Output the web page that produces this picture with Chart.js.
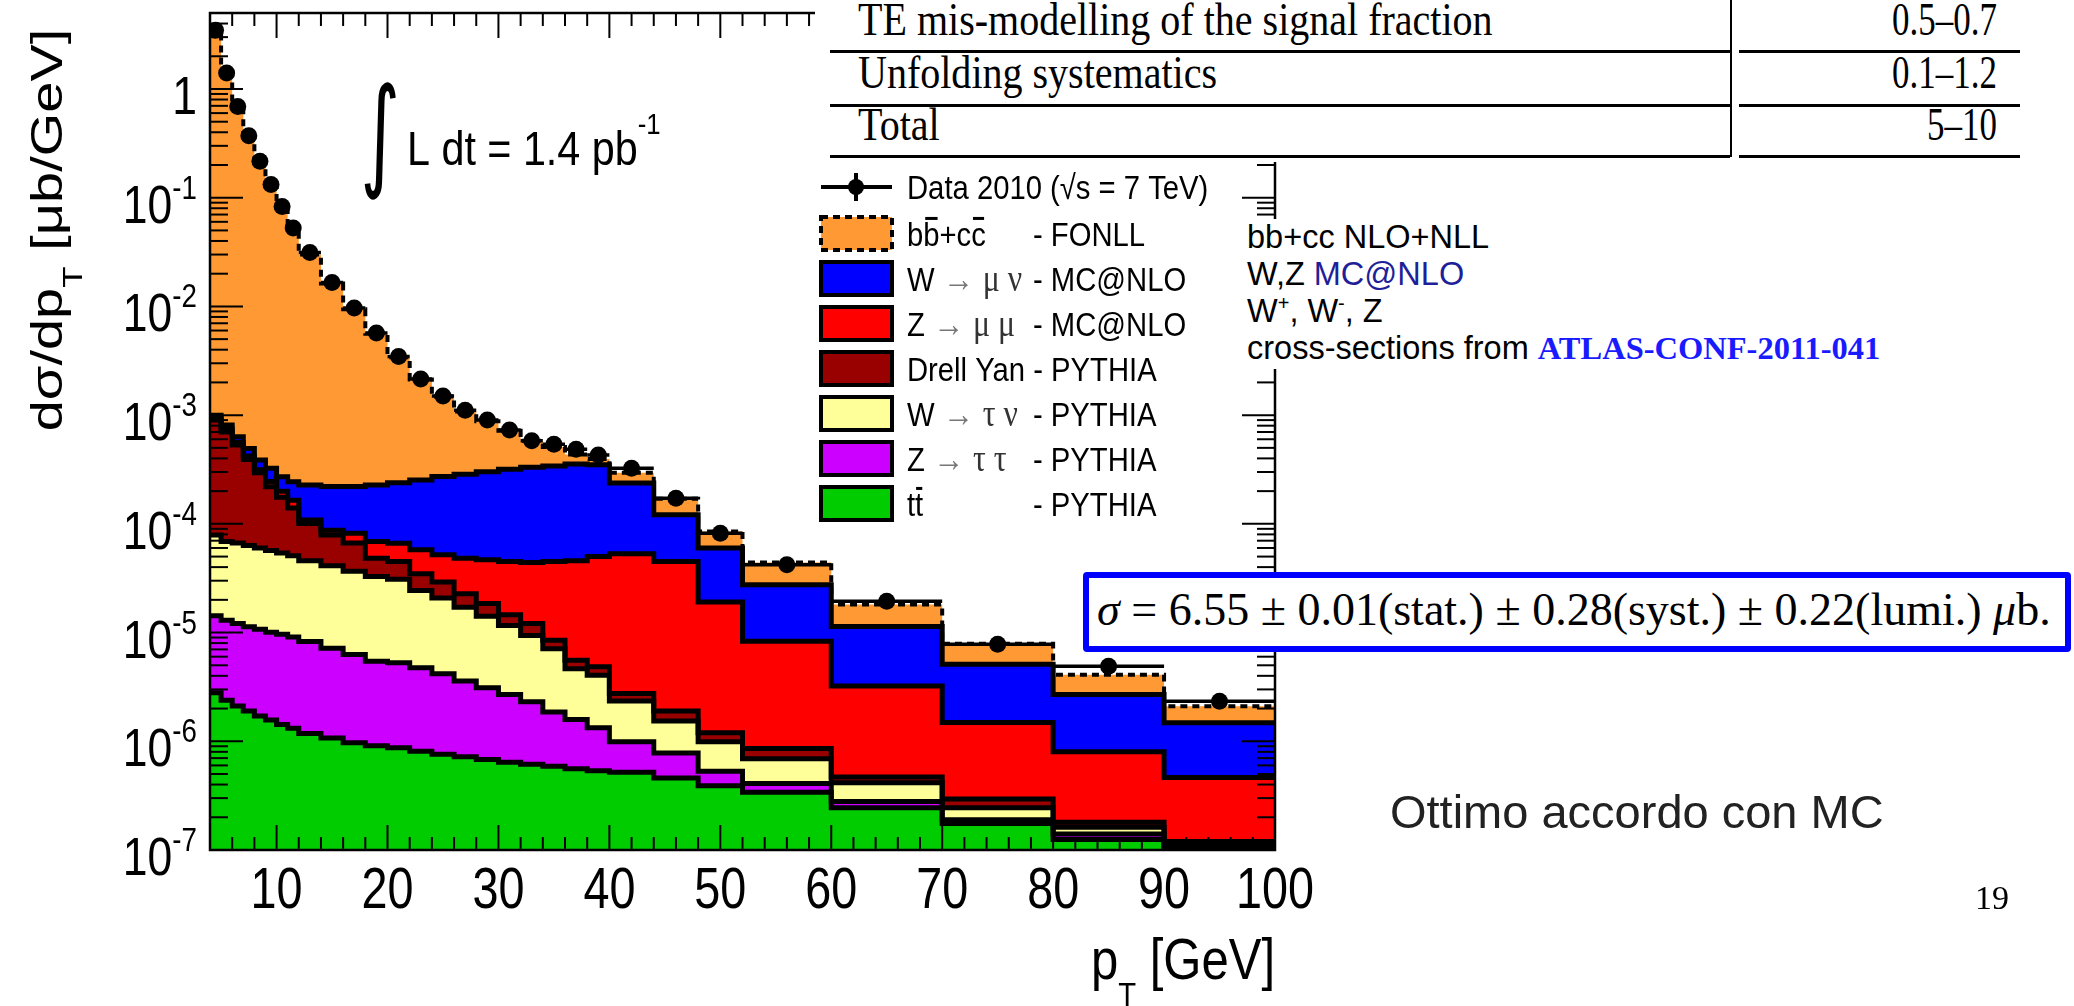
<!DOCTYPE html>
<html>
<head>
<meta charset="utf-8">
<title>Inclusive muon cross-section vs pT</title>
<script src="https://cdn.jsdelivr.net/npm/chart.js@4.4.1/dist/chart.umd.min.js"></script>
<style>
  html, body { margin: 0; padding: 0; background: #fff; }
  body { width: 2074px; height: 1006px; position: relative; overflow: hidden;
         font-family: "Liberation Sans", Arial, sans-serif; }
  #plot { position: absolute; left: 0; top: 0; }
  .sheet { position: absolute; background: #fff; }
  .rule { position: absolute; background: #000; }
  #systTable { left: 815px; top: 0; width: 1259px; height: 162px;
               font-family: "Liberation Serif", "Times New Roman", serif; font-size: 46px; line-height: 46px; }
  #systTable .lbl { position: absolute; left: 43px; white-space: nowrap; transform: scaleX(0.87); transform-origin: left center; }
  #systTable .val { position: absolute; right: 77px; white-space: nowrap; transform: scaleX(0.76); transform-origin: right center; }
  #refs { left: 1240px; top: 219px; width: 660px; height: 150px; font-size: 32.5px; line-height: 37px;
          padding-left: 7px; box-sizing: border-box; white-space: nowrap; }
  #refs sup { font-size: 20px; line-height: 0; }
  #refs .nlo { color: #1f1f99; }
  #refs .conf { color: #1a1aff; font-family: "Liberation Serif", serif; font-weight: bold; }
  #sigma { left: 1083px; top: 572px; width: 988px; height: 80px; box-sizing: border-box;
           border: 6px solid #0000ff; border-radius: 4px; padding: 0 0 0 8px;
           font-family: "Liberation Serif", "Times New Roman", serif; font-size: 46px; line-height: 64px;
           white-space: nowrap; }
  #verdict { position: absolute; left: 1390px; top: 788px; font-size: 47px; line-height: 47px; color: #222; white-space: nowrap; }
  #page { position: absolute; left: 1975px; top: 881px; font-family: "Liberation Serif", serif;
          font-size: 34px; line-height: 34px; }
</style>
</head>
<body>
<canvas id="plot" width="2074" height="1006"></canvas>

<div class="sheet" id="systTable">
  <div class="lbl" style="top:-3px">TE mis-modelling of the signal fraction</div>
  <div class="val" style="top:-3px">0.5–0.7</div>
  <div class="rule" style="left:15px; top:50px; width:900px; height:3px"></div>
  <div class="rule" style="left:924px; top:50px; width:281px; height:3px"></div>
  <div class="lbl" style="top:50px">Unfolding systematics</div>
  <div class="val" style="top:50px">0.1–1.2</div>
  <div class="rule" style="left:15px; top:104px; width:900px; height:3px"></div>
  <div class="rule" style="left:924px; top:104px; width:281px; height:3px"></div>
  <div class="lbl" style="top:102px">Total</div>
  <div class="val" style="top:102px">5–10</div>
  <div class="rule" style="left:15px; top:155px; width:900px; height:3px"></div>
  <div class="rule" style="left:924px; top:155px; width:281px; height:3px"></div>
  <div class="rule" style="left:915px; top:0; width:2px; height:157px"></div>
</div>

<div class="sheet" id="refs">
  <div>bb+cc NLO+NLL</div>
  <div>W,Z <span class="nlo">MC@NLO</span></div>
  <div>W<sup>+</sup>, W<sup>-</sup>, Z</div>
  <div>cross-sections from <span class="conf">ATLAS-CONF-2011-041</span></div>
</div>

<div class="sheet" id="sigma"><i>σ</i> = 6.55 ± 0.01(stat.) ± 0.28(syst.) ± 0.22(lumi.) <i>μ</i>b.</div>

<div id="verdict">Ottimo accordo con MC</div>
<div id="page">19</div>

<script>
// pT binning in GeV
const binEdges = [4, 5, 6, 7, 8, 9, 10, 11, 12, 14, 16, 18, 20, 22, 24, 26, 28, 30, 32, 34, 36, 38, 40,
                  44, 48, 52, 60, 70, 80, 90, 100];

// measured dsigma/dpT, mub/GeV
const dataValues = [3.47, 1.40, 0.69, 0.372, 0.216, 0.132, 0.083, 0.0526, 0.0314, 0.0166, 0.00966, 0.00569,
                    0.00347, 0.00215, 0.0015, 0.00111, 9.0e-4, 7.3e-4, 5.8e-4, 5.4e-4, 4.85e-4, 4.3e-4,
                    3.24e-4, 1.72e-4, 8.2e-5, 4.2e-5, 1.94e-5, 7.8e-6, 4.9e-6, 2.34e-6];

// MC predictions per process, mub/GeV
const ttbar = [2.8e-6, 2.39e-6, 2.11e-6, 1.9e-6, 1.71e-6, 1.57e-6, 1.43e-6, 1.32e-6, 1.18e-6, 1.07e-6, 9.7e-7,
               9.1e-7, 8.7e-7, 8.1e-7, 7.6e-7, 7.2e-7, 6.8e-7, 6.4e-7, 6.15e-7, 5.9e-7, 5.6e-7, 5.35e-7,
               5.2e-7, 4.6e-7, 3.9e-7, 3.4e-7, 2.45e-7, 1.75e-7, 1.25e-7, 9e-8];
const zTauTau = [1.15e-5, 1.06e-5, 1.0e-5, 9.4e-6, 9.0e-6, 8.5e-6, 8.2e-6, 7.8e-6, 7.1e-6, 6.1e-6, 5.3e-6,
                 4.55e-6, 4.4e-6, 3.93e-6, 3.42e-6, 2.86e-6, 2.43e-6, 2.06e-6, 1.69e-6, 1.27e-6, 1.03e-6,
                 7.95e-7, 4.7e-7, 3.2e-7, 1.4e-7, 7e-8, 3.5e-8, 1.5e-8, 1.5e-8, 1e-8];
const wTauNu = [6.47e-5, 5.6e-5, 5.44e-5, 5.2e-5, 4.91e-5, 4.69e-5, 4.42e-5, 4.18e-5, 3.75e-5, 3.4e-5, 3.03e-5,
                2.74e-5, 2.57e-5, 1.97e-5, 1.66e-5, 1.35e-5, 1.1e-5, 8.9e-6, 7.1e-6, 5.22e-6, 3.05e-6,
                2.71e-6, 1.36e-6, 7.6e-7, 4.6e-7, 2.8e-7, 1.35e-7, 5.5e-8, 2.2e-8, 1e-8];
const drellYan = [8.21e-4, 6.31e-4, 4.64e-4, 3.27e-4, 2.35e-4, 1.63e-4, 1.22e-4, 8.9e-5, 5.5e-5, 3.8e-5, 3.0e-5,
                  1.55e-5, 1.4e-5, 1.04e-5, 8.4e-6, 5.7e-6, 4.4e-6, 3.0e-6, 2.7e-6, 1.42e-6, 9.3e-7,
                  8.0e-7, 4.0e-7, 3.6e-7, 2.1e-7, 1.7e-7, 5.5e-8, 5e-8, 1.8e-8, 1e-8];
const zMuMu = [5.0e-5, 5.0e-5, 3.0e-5, 3.0e-5, 2.0e-5, 2.5e-5, 2.4e-5, 2.5e-5, 8.0e-6, 8.0e-6, 1.55e-5,
               2.06e-5, 2.15e-5, 2.29e-5, 2.28e-5, 2.56e-5, 2.83e-5, 3.04e-5, 3.21e-5, 3.65e-5, 4.01e-5,
               4.52e-5, 5.03e-5, 4.31e-5, 1.79e-5, 7.44e-6, 2.75e-6, 1.19e-6, 6.2e-7, 3.45e-7];
const wMuNu = [5.0e-5, 6.0e-5, 7.3e-5, 7.4e-5, 7.2e-5, 7.9e-5, 7.2e-5, 7.9e-5, 1.19e-4, 1.33e-4, 1.38e-4,
               1.59e-4, 1.725e-4, 1.95e-4, 2.2e-4, 2.38e-4, 2.55e-4, 2.73e-4, 2.87e-4, 2.95e-4, 3.09e-4,
               3.0e-4, 1.85e-4, 7.6e-5, 4.09e-5, 1.92e-5, 8.18e-6, 3.62e-6, 1.9e-6, 1.015e-6];
const bbcc = [3.3, 1.35, 0.679, 0.3595, 0.2096, 0.1277, 0.0807, 0.0508, 0.0298, 0.016, 0.00918, 0.00537,
              0.00316, 0.00187, 0.00121, 7.94e-4, 5.78e-4, 4.02e-4, 2.49e-4, 1.7e-4, 8.0e-5, 4.5e-5,
              5.7e-5, 4.9e-5, 2.5e-5, 1.65e-5, 6.7e-6, 2.8e-6, 1.4e-6, 6.2e-7];

// axis ticks
const xTickValues = [10, 20, 30, 40, 50, 60, 70, 80, 90, 100];
const yTickExponents = [-7, -6, -5, -4, -3, -2, -1, 0];

const X_MIN = 4, X_MAX = 100, Y_MIN = 1e-7, Y_MAX = 5;
const SANS = '"Liberation Sans", Arial, sans-serif';
const SERIF = '"Liberation Serif", "Times New Roman", serif';
const SX = 0.86;   // ROOT canvas text is a little condensed

// stacked from the bottom up
const layers = [
  { values: ttbar,    color: '#00cc00' },
  { values: zTauTau,  color: '#cc00ff' },
  { values: wTauNu,   color: '#ffff99' },
  { values: drellYan, color: '#990000' },
  { values: zMuMu,    color: '#ff0000' },
  { values: wMuNu,    color: '#0000ff' },
  { values: bbcc,     color: '#ff9933', dashed: true }
];

function steps(vals) {
  const pts = vals.map((v, i) => ({ x: binEdges[i], y: v }));
  pts.push({ x: binEdges[vals.length], y: vals[vals.length - 1] });
  return pts;
}

let running = dataValues.map(() => 0);
const stackSets = layers.map((l, i) => {
  running = running.map((s, j) => s + l.values[j]);
  return {
    data: steps(running),
    stepped: true,
    fill: i === 0 ? 'start' : '-1',
    backgroundColor: l.color,
    borderColor: '#000',
    borderWidth: l.dashed ? 4 : 5,
    borderDash: l.dashed ? [7, 5] : [],
    pointRadius: 0,
    order: 2
  };
});

const xErrBars = [];
dataValues.forEach((v, i) => {
  xErrBars.push({ x: binEdges[i], y: v }, { x: binEdges[i + 1], y: v }, { x: binEdges[i + 1], y: null });
});
const dataPoints = dataValues.map((v, i) => ({ x: (binEdges[i] + binEdges[i + 1]) / 2, y: v }));

function fontOf(r) {
  return (r.bold ? 'bold ' : '') + (r.italic ? 'italic ' : '') + r.size + 'px ' + (r.family || SANS);
}

// draw a row of text pieces (sub/superscripts via dy), optional overbars
function drawRuns(ctx, runs, x, y, align, sx) {
  ctx.save();
  ctx.translate(x, y);
  ctx.scale(sx, 1);
  ctx.textAlign = 'left';
  ctx.textBaseline = 'alphabetic';
  let total = 0;
  runs.forEach(r => { ctx.font = fontOf(r); r.w = ctx.measureText(r.t).width; total += r.w; });
  let cx = align === 'right' ? -total : align === 'center' ? -total / 2 : 0;
  runs.forEach(r => {
    ctx.font = fontOf(r);
    ctx.fillStyle = r.color || '#000';
    ctx.fillText(r.t, cx, r.dy || 0);
    if (r.bar) ctx.fillRect(cx + r.w * 0.12, (r.dy || 0) - r.size * 0.84, r.w * 0.76, 3);
    cx += r.w;
  });
  ctx.restore();
}

function seg(ctx, x1, y1, x2, y2) {
  ctx.beginPath(); ctx.moveTo(x1, y1); ctx.lineTo(x2, y2); ctx.stroke();
}

const rootFrame = {
  id: 'rootFrame',
  afterDatasetsDraw(chart) {
    const { ctx, chartArea: a, scales: { x, y } } = chart;
    ctx.save();
    ctx.strokeStyle = '#000';
    ctx.lineWidth = 2;
    for (let v = X_MIN + 2; v < X_MAX; v += 2) {
      const px = x.getPixelForValue(v);
      const len = v % 10 === 0 ? 25 : 13;
      seg(ctx, px, a.bottom, px, a.bottom - len);
      seg(ctx, px, a.top, px, a.top + len);
    }
    yTickExponents.forEach(e => {
      for (let k = 1; k <= 9; k++) {
        const v = k * Math.pow(10, e);
        if (v >= Y_MAX) break;
        const py = y.getPixelForValue(v);
        const len = k === 1 ? 33 : 18;
        seg(ctx, a.left, py, a.left + len, py);
        seg(ctx, a.right, py, a.right - len, py);
      }
    });
    ctx.lineWidth = 2.5;
    ctx.strokeRect(a.left, a.top, a.right - a.left, a.bottom - a.top);
    ctx.restore();

    xTickValues.forEach(v => {
      drawRuns(ctx, [{ t: String(v), size: 57 }], x.getPixelForValue(v), a.bottom + 58, 'center', 0.82);
    });
    yTickExponents.forEach(e => {
      const py = y.getPixelForValue(Math.pow(10, e));
      const runs = e === 0 ? [{ t: '1', size: 53 }]
                           : [{ t: '10', size: 53 }, { t: String(e), size: 33, dy: -24 }];
      drawRuns(ctx, runs, 197, py + 25, 'right', 0.84);
    });
  },
  afterDraw(chart) {
    const ctx = chart.ctx;

    // axis titles
    drawRuns(ctx, [{ t: 'p', size: 57 }, { t: 'T', size: 34, dy: 27 }, { t: ' [GeV]', size: 57 }],
             1275, 979, 'right', SX);
    ctx.save();
    ctx.translate(62, 230);
    ctx.rotate(-Math.PI / 2);
    ctx.scale(1, 0.8);
    drawRuns(ctx, [{ t: 'dσ/dp', size: 56 }, { t: 'T', size: 35, dy: 25 }, { t: ' [μb/GeV]', size: 56 }],
             0, 0, 'center', 1);
    ctx.restore();

    // integrated luminosity
    ctx.save();
    ctx.font = '100px "DejaVu Sans"';
    const m = ctx.measureText('∫');
    const gh = m.actualBoundingBoxAscent + m.actualBoundingBoxDescent;
    const gw = m.actualBoundingBoxLeft + m.actualBoundingBoxRight;
    ctx.translate(364, 82);
    ctx.scale(32 / gw, 119 / gh);
    ctx.fillStyle = '#000';
    ctx.fillText('∫', m.actualBoundingBoxLeft, m.actualBoundingBoxAscent);
    ctx.restore();
    drawRuns(ctx, [{ t: 'L dt = 1.4 pb', size: 48 }, { t: '-1', size: 30, dy: -31 }], 407, 165, 'left', SX);

    // legend
    ctx.save();
    ctx.strokeStyle = '#000';
    ctx.lineWidth = 4;
    seg(ctx, 821, 187, 892, 187);
    seg(ctx, 856, 173, 856, 201);
    ctx.beginPath(); ctx.arc(856, 187, 8, 0, Math.PI * 2); ctx.fillStyle = '#000'; ctx.fill();
    ctx.restore();
    drawRuns(ctx, [{ t: 'Data 2010 (√s = 7 TeV)', size: 34 }], 907, 199, 'left', SX);

    const g = { family: SERIF, color: '#333', size: 37 };
    const arrow = { t: ' → ', size: 36, color: '#777' };
    const legendRows = [
      { y: 233.5, layer: 6, text: [{ t: 'b' }, { t: 'b', bar: true }, { t: '+c' }, { t: 'c', bar: true }], tail: '- FONLL' },
      { y: 278.5, layer: 5, text: [{ t: 'W' }, arrow, Object.assign({ t: 'μ ν' }, g)], tail: '- MC@NLO' },
      { y: 323.5, layer: 4, text: [{ t: 'Z' }, arrow, Object.assign({ t: 'μ μ' }, g)], tail: '- MC@NLO' },
      { y: 368.5, layer: 3, text: [{ t: 'Drell Yan - PYTHIA' }], tail: '' },
      { y: 413.5, layer: 2, text: [{ t: 'W' }, arrow, Object.assign({ t: 'τ ν' }, g)], tail: '- PYTHIA' },
      { y: 458.5, layer: 1, text: [{ t: 'Z' }, arrow, Object.assign({ t: 'τ τ' }, g)], tail: '- PYTHIA' },
      { y: 503.5, layer: 0, text: [{ t: 't' }, { t: 't', bar: true }], tail: '- PYTHIA' }
    ];
    legendRows.forEach(row => {
      const l = layers[row.layer];
      ctx.save();
      ctx.fillStyle = l.color;
      ctx.fillRect(821, row.y - 16.5, 71, 33);
      ctx.strokeStyle = '#000';
      ctx.lineWidth = 4;
      ctx.setLineDash(l.dashed ? [7, 5] : []);
      ctx.strokeRect(821, row.y - 16.5, 71, 33);
      ctx.restore();
      const runs = row.text.map(r => Object.assign({ size: 34 }, r));
      drawRuns(ctx, runs, 907, row.y + 12, 'left', SX);
      if (row.tail) drawRuns(ctx, [{ t: row.tail, size: 34 }], 1033, row.y + 12, 'left', SX);
    });
  }
};

new Chart(document.getElementById('plot'), {
  type: 'line',
  data: {
    datasets: stackSets.concat([
      { data: xErrBars, showLine: true, spanGaps: false, borderColor: '#000', borderWidth: 3.5,
        pointRadius: 0, fill: false, order: 1 },
      { data: dataPoints, showLine: false, pointRadius: 8.5, pointBackgroundColor: '#000',
        pointBorderWidth: 0, fill: false, order: 0 }
    ])
  },
  options: {
    responsive: false,
    animation: false,
    devicePixelRatio: 1,
    layout: { padding: { left: 210, top: 13, right: 799, bottom: 156 } },
    scales: {
      x: { type: 'linear', min: X_MIN, max: X_MAX, bounds: 'data', display: false },
      y: { type: 'logarithmic', min: Y_MIN, max: Y_MAX, display: false }
    },
    plugins: {
      legend: { display: false },
      tooltip: { enabled: false },
      filler: { drawTime: 'beforeDatasetsDraw' }
    }
  },
  plugins: [rootFrame]
});
</script>
</body>
</html>
